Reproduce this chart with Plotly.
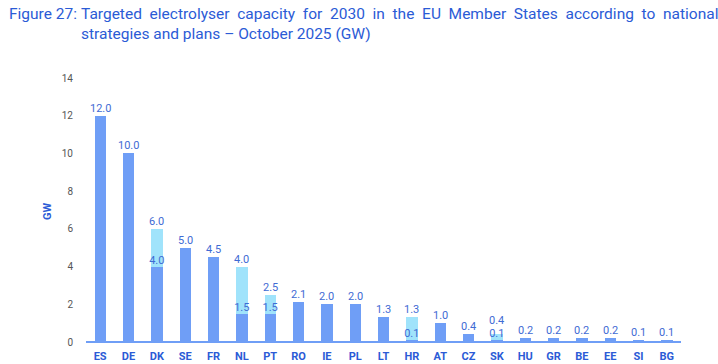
import plotly.graph_objects as go

countries = ["ES", "DE", "DK", "SE", "FR", "NL", "PT", "RO", "IE", "PL", "LT",
             "HR", "AT", "CZ", "SK", "HU", "GR", "BE", "EE", "SI", "BG"]
base_gw = [12.0, 10.0, 4.0, 5.0, 4.5, 1.5, 1.5, 2.1, 2.0, 2.0, 1.3,
           0.1, 1.0, 0.4, 0.1, 0.2, 0.2, 0.2, 0.2, 0.1, 0.1]
extra_gw = [0, 0, 2.0, 0, 0, 2.5, 1.0, 0, 0, 0, 0,
            1.2, 0, 0, 0.3, 0, 0, 0, 0, 0, 0]
y_ticks = [0, 2, 4, 6, 8, 10, 12, 14]

totals = [round(b + e, 1) for b, e in zip(base_gw, extra_gw)]
split_x = [c for c, e in zip(countries, extra_gw) if e > 0]
split_y = [b for b, e in zip(base_gw, extra_gw) if e > 0]

BLUE = "#6f9ef6"
LIGHT = "#a0e3fb"
LABEL = "#3f6bd4"
TITLE = "#2b5bd6"
FONT = "Roboto"

W, H = 718, 364
ml, mr, mt, mb = 86, 37, 78, 22
pw, ph = W - ml - mr, H - mt - mb
Y_MAX = 14
px_per_unit = ph / Y_MAX

fig = go.Figure()
fig.add_trace(go.Bar(x=countries, y=base_gw, marker_color=BLUE,
                     marker_line_width=0, hoverinfo="skip"))
fig.add_trace(go.Bar(x=countries, y=extra_gw, marker_color=LIGHT,
                     marker_line_width=0, hoverinfo="skip"))
fig.add_trace(go.Scatter(x=split_x, y=split_y, mode="text",
                         text=[f"{v:.1f}" for v in split_y],
                         textposition="top center",
                         textfont=dict(family=FONT, size=11, color=LABEL),
                         hoverinfo="skip"))

# total labels above each bar; nudged up when too close to the split label
for c, t, e in zip(countries, totals, extra_gw):
    gap = e * px_per_unit
    shift = max(0.0, 12 - gap) if e > 0 else 0.0
    fig.add_annotation(x=c, y=t, text=f"{t:.1f}", showarrow=False,
                       xanchor="center", yanchor="bottom", yshift=shift - 1,
                       font=dict(family=FONT, size=11, color=LABEL))

def px_x(x):
    return (x - ml) / pw

def px_y(y):
    return (H - mb - y) / ph

line1_words = "Targeted electrolyser capacity for 2030 in the EU Member States according to national".split(" ")
line1 = " \u00a0".join(line1_words)
line2 = "strategies and plans \u2013 October 2025 (GW)"

fig.add_annotation(text="Figure 27:", xref="paper", yref="paper",
                   x=px_x(7), y=px_y(3), xanchor="left", yanchor="top",
                   showarrow=False, align="left",
                   font=dict(family=FONT, size=15.5, color=TITLE))
fig.add_annotation(text=line1 + "<br>" + line2,
                   xref="paper", yref="paper",
                   x=px_x(79), y=px_y(3), xanchor="left", yanchor="top",
                   showarrow=False, align="left",
                   font=dict(family=FONT, size=15.5, color=TITLE))
fig.add_annotation(text="<b>GW</b>", xref="paper", yref="paper",
                   x=px_x(47), y=px_y(212), xanchor="center", yanchor="middle",
                   textangle=-90, showarrow=False,
                   font=dict(family=FONT, size=11, color=TITLE))

fig.update_layout(
    width=W, height=H,
    margin=dict(l=ml, r=mr, t=mt, b=mb, autoexpand=False),
    barmode="stack", bargap=0.6,
    showlegend=False,
    plot_bgcolor="white", paper_bgcolor="white",
    font=dict(family=FONT),
)
fig.update_xaxes(range=[-0.5, len(countries) - 0.5],
                 showgrid=False, showline=False, zeroline=False, ticks="",
                 tickfont=dict(family=FONT, size=11, color=TITLE, weight="bold"),
                 ticklabelstandoff=6,
                 automargin=False)
fig.update_yaxes(range=[0, Y_MAX], tickvals=y_ticks, showgrid=False,
                 zeroline=True, zerolinecolor=BLUE, zerolinewidth=1.5,
                 showline=False, ticks="",
                 tickfont=dict(family=FONT, size=10, color="#555555"),
                 ticklabelstandoff=12,
                 automargin=False)

fig.write_html("out.html",
               config={"displayModeBar": False},
               post_script="document.body.style.margin='0';document.body.style.padding='0';")
